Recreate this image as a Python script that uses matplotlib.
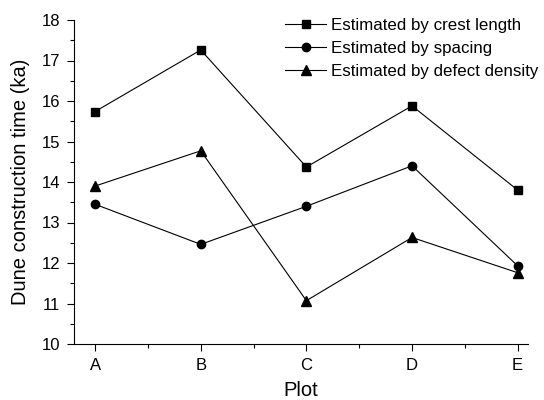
import matplotlib
matplotlib.use("Agg")
import matplotlib.pyplot as plt
from matplotlib.ticker import MultipleLocator

plt.rcParams['font.family'] = ['Liberation Sans', 'DejaVu Sans']

plots = ['A', 'B', 'C', 'D', 'E']
crest = [15.74, 17.26, 14.37, 15.88, 13.80]
spacing = [13.45, 12.46, 13.40, 14.40, 11.93]
defect = [13.90, 14.77, 11.07, 12.63, 11.76]

fig = plt.figure(figsize=(5.44, 4.0), dpi=100)
ax = fig.add_axes([0.136, 0.14, 0.835, 0.81])

x = range(len(plots))
ax.plot(x, crest, 'k-', marker='s', ms=5.5, lw=0.8, label='Estimated by crest length')
ax.plot(x, spacing, 'k-', marker='o', ms=6, lw=0.8, label='Estimated by spacing')
ax.plot(x, defect, 'k-', marker='^', ms=6.5, lw=0.8, label='Estimated by defect density')

ax.set_xlim(-0.2, 4.1)
ax.set_ylim(10, 18)
ax.set_xticks(list(x))
ax.set_xticklabels(plots)
ax.xaxis.set_minor_locator(MultipleLocator(0.5))
ax.yaxis.set_major_locator(MultipleLocator(1))
ax.yaxis.set_minor_locator(MultipleLocator(0.5))
ax.tick_params(which='major', length=5, width=0.8, labelsize=12, direction='out', pad=5)
ax.tick_params(which='minor', length=3, width=0.8, direction='out')

ax.spines['top'].set_visible(False)
ax.spines['right'].set_visible(False)

ax.set_xlabel('Plot', fontsize=14.5, labelpad=6)
ax.set_ylabel('Dune construction time (ka)', fontsize=14.5, labelpad=8)

ax.legend(loc='upper left', frameon=False, fontsize=12.2, handlelength=2.4,
          handletextpad=0.3, labelspacing=0.45, borderpad=0, borderaxespad=0,
          bbox_to_anchor=(0.465, 1.005))

fig.savefig('out.png', dpi=100)
